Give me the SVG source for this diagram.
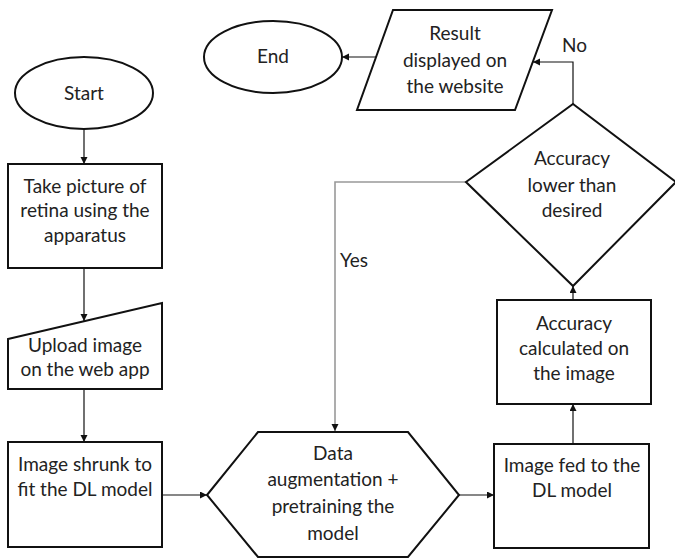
<svg xmlns="http://www.w3.org/2000/svg" width="675" height="559" viewBox="0 0 675 559">
<defs>
<marker id="arr" markerWidth="8" markerHeight="8" refX="7" refY="3.5" orient="auto" markerUnits="userSpaceOnUse">
<path d="M0,0 L7,3.5 L0,7 Z" fill="#111"/>
</marker>
<style>
.n{fill:#fff;stroke:#111;stroke-width:2}
.t{font-family:Lato,"Liberation Sans",sans-serif;font-size:19px;fill:#222;text-anchor:middle}
.c{fill:none;stroke:#111;stroke-width:1.2}
.g{fill:none;stroke:#999;stroke-width:1.6}
.l{font-family:Lato,"Liberation Sans",sans-serif;font-size:19px;fill:#222}
</style>
</defs>
<rect width="675" height="559" fill="#fff"/>
<g id="connectors">
<path class="c" d="M84 130 L84 164" marker-end="url(#arr)"/>
<path class="c" d="M84 268 L84 321" marker-end="url(#arr)"/>
<path class="c" d="M84 389 L84 442" marker-end="url(#arr)"/>
<path class="c" d="M162 495 L207 495" marker-end="url(#arr)"/>
<path class="c" d="M459 495 L494 495" marker-end="url(#arr)"/>
<path class="c" d="M573 444 L573 404" marker-end="url(#arr)"/>
<path class="c" d="M573 300 L573 286" marker-end="url(#arr)"/>
<path class="c" d="M573 104 L573 62 L533 62" marker-end="url(#arr)"/>
<path class="c" d="M376 57 L342 57" marker-end="url(#arr)"/>
<path class="g" d="M466 182 L335 182 L335 431" marker-end="url(#arr)"/>
<text class="l" x="562" y="52">No</text>
<text class="l" x="340" y="267">Yes</text>
</g>
<g id="start">
<ellipse class="n" cx="84" cy="93" rx="69" ry="36"/>
<text class="t" x="84" y="100">Start</text>
</g>
<g id="end">
<ellipse class="n" cx="273" cy="57" rx="69" ry="36"/>
<text class="t" x="273" y="63">End</text>
</g>
<g id="take-picture">
<rect class="n" x="8" y="164" width="154" height="104"/>
<text class="t" x="85" y="193">Take picture of</text>
<text class="t" x="85" y="217">retina using the</text>
<text class="t" x="85" y="242">apparatus</text>
</g>
<g id="upload">
<polygon class="n" points="8,339 162,303 162,389 8,389"/>
<text class="t" x="85" y="352">Upload image</text>
<text class="t" x="85" y="376">on the web app</text>
</g>
<g id="shrunk">
<rect class="n" x="8" y="442" width="154" height="105"/>
<text class="t" x="85" y="471">Image shrunk to</text>
<text class="t" x="85" y="496">fit the DL model</text>
</g>
<g id="augmentation">
<polygon class="n" points="207,495 258,432 408,432 459,495 408,557 258,557"/>
<text class="t" x="333" y="460">Data</text>
<text class="t" x="333" y="486">augmentation +</text>
<text class="t" x="333" y="513">pretraining the</text>
<text class="t" x="333" y="540">model</text>
</g>
<g id="image-fed">
<rect class="n" x="494" y="444" width="155" height="104"/>
<text class="t" x="572" y="472">Image fed to the</text>
<text class="t" x="572" y="497">DL model</text>
</g>
<g id="accuracy-calc">
<rect class="n" x="497" y="300" width="154" height="104"/>
<text class="t" x="574" y="330">Accuracy</text>
<text class="t" x="574" y="355">calculated on</text>
<text class="t" x="574" y="380">the image</text>
</g>
<g id="decision">
<polygon class="n" points="466,182 573,104 676,182 573,286"/>
<text class="t" x="572" y="165">Accuracy</text>
<text class="t" x="572" y="192">lower than</text>
<text class="t" x="572" y="217">desired</text>
</g>
<g id="result">
<polygon class="n" points="393,10 552,10 515,110 357,110"/>
<text class="t" x="455" y="40">Result</text>
<text class="t" x="455" y="67">displayed on</text>
<text class="t" x="455" y="93">the website</text>
</g>
</svg>
